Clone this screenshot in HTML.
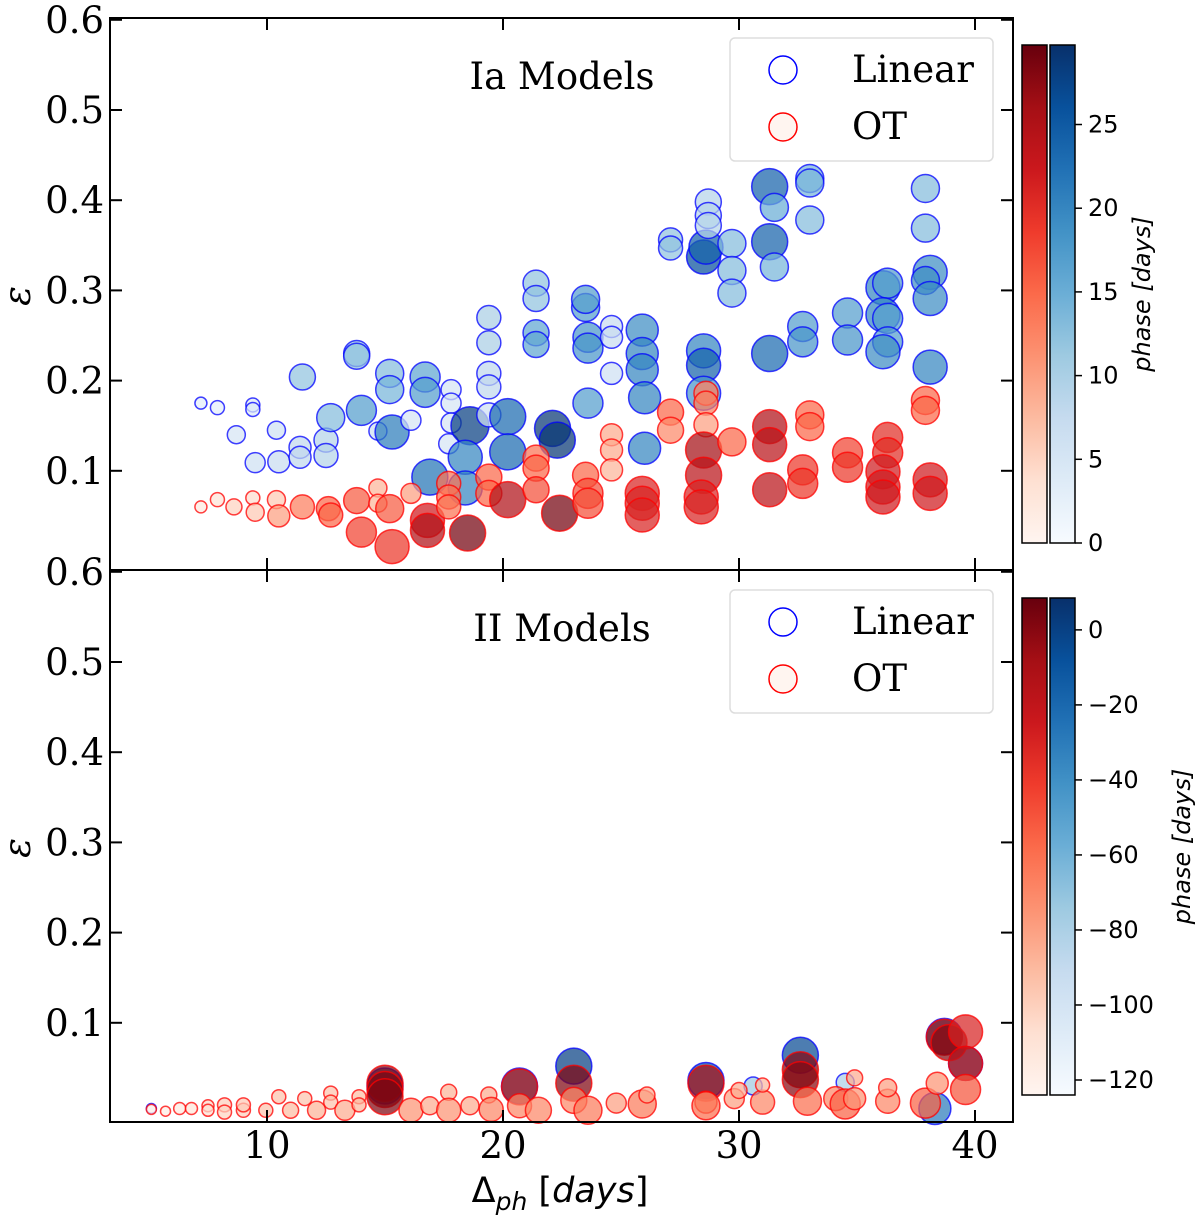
<!DOCTYPE html>
<html><head><meta charset="utf-8"><style>
body{margin:0;background:#fff}
svg{display:block}
.tk{font-family:"DejaVu Serif","Liberation Serif",serif;font-size:37px}
.cb{font-family:"DejaVu Sans","Liberation Sans",sans-serif;font-size:24px}
</style></head><body>
<svg id="chart" width="1200" height="1221" viewBox="0 0 1200 1221" xmlns="http://www.w3.org/2000/svg">
<defs>
<linearGradient id="gR" x1="0" y1="1" x2="0" y2="0"><stop offset="0" stop-color="#fff5f0"/><stop offset=".125" stop-color="#fee0d2"/><stop offset=".25" stop-color="#fcbba1"/><stop offset=".375" stop-color="#fc9272"/><stop offset=".5" stop-color="#fb6a4a"/><stop offset=".625" stop-color="#ef3b2c"/><stop offset=".75" stop-color="#cb181d"/><stop offset=".875" stop-color="#a50f15"/><stop offset="1" stop-color="#67000d"/></linearGradient>
<linearGradient id="gB" x1="0" y1="1" x2="0" y2="0"><stop offset="0" stop-color="#f7fbff"/><stop offset=".125" stop-color="#deebf7"/><stop offset=".25" stop-color="#c6dbef"/><stop offset=".375" stop-color="#9ecae1"/><stop offset=".5" stop-color="#6baed6"/><stop offset=".625" stop-color="#4292c6"/><stop offset=".75" stop-color="#2171b5"/><stop offset=".875" stop-color="#08519c"/><stop offset="1" stop-color="#08306b"/></linearGradient>
</defs>
<g id="marks"></g>
<g id="axes"></g>
</svg>
<script>
// Data: [delta_ph (days), epsilon, phase (days), marker radius]
const topLinear=[[7.2,.175,3,6],[7.9,.17,3,7],[9.4,.173,4,7],[9.4,.168,4,7],[8.7,.14,5,9],[10.4,.145,6,9],[9.5,.109,6,10],[10.5,.11,7,11],[11.4,.126,8,11],[11.4,.115,8,11],[11.5,.204,12,13],[12.5,.134,9,12],[12.5,.117,9,12],[12.7,.159,13,14],[13.8,.23,12,13],[13.8,.227,12,13],[14,.167,17,15],[14.7,.144,6,9],[15.3,.143,21,17],[15.2,.208,13,14],[15.2,.19,14,14],[16.1,.156,5,10],[16.7,.204,16,15],[16.7,.187,17,15],[16.9,.093,22,18],[17.8,.19,5,10],[17.8,.175,5,10],[17.8,.153,5,10],[17.7,.13,5,10],[18.6,.15,28,19],[18.4,.115,20,17],[18.4,.081,20,17],[19.4,.27,10,12],[19.4,.242,10,12],[19.4,.208,8,12],[19.4,.193,8,12],[19.4,.162,6,12],[20.2,.16,23,18],[20.2,.121,23,18],[21.4,.308,12,13],[21.4,.291,12,13],[21.4,.253,16,13],[21.4,.24,16,13],[22.1,.147,29,18],[22.3,.134,29,18],[23.5,.281,17,14],[23.5,.29,17,14],[23.6,.248,18,15],[23.6,.236,18,15],[23.6,.175,17,15],[24.6,.26,7,11],[24.6,.248,7,11],[24.6,.208,6,11],[25.9,.256,19,16],[25.9,.23,20,16],[25.9,.212,20,16],[26,.181,20,16],[26,.125,20,16],[27.1,.356,12,12],[27.1,.347,12,12],[28.5,.233,20,17],[28.5,.217,24,17],[28.5,.337,26,17],[28.6,.348,24,17],[28.5,.186,18,17],[28.7,.398,9,13],[28.7,.383,9,13],[28.7,.372,9,13],[29.7,.352,13,14],[29.7,.322,13,14],[29.7,.297,13,14],[31.3,.415,24,18],[31.5,.392,15,14],[31.3,.354,24,18],[31.5,.326,14,14],[31.3,.23,23,18],[33,.424,14,14],[33,.419,14,14],[33,.378,13,14],[32.7,.26,17,15],[32.7,.243,18,15],[34.6,.275,17,15],[34.6,.245,18,15],[36.1,.303,20,17],[36.3,.308,17,15],[36.1,.273,20,17],[36.3,.269,17,15],[36.3,.243,17,15],[36.1,.232,19,17],[37.9,.413,13,14],[37.9,.369,13,14],[38.1,.32,19,17],[37.9,.311,19,14],[38.1,.291,19,17],[38.1,.215,20,17]];
const topOT=[[7.2,.06,2,6],[7.9,.068,3,7],[8.6,.06,5,8],[9.4,.07,4,7],[9.5,.054,6,9],[10.4,.068,6,9],[10.5,.05,10,11],[11.5,.06,13,12],[12.6,.058,15,12],[12.7,.051,15,12],[13.8,.067,16,13],[14,.032,18,15],[14.7,.081,8,9],[14.7,.064,8,9],[15.2,.058,16,14],[15.3,.016,19,17],[16.1,.075,10,10],[16.8,.045,22,17],[16.8,.034,25,17],[17.7,.086,14,12],[17.7,.071,14,12],[17.7,.06,14,12],[18.5,.031,29,18],[19.4,.093,15,13],[19.4,.075,15,13],[20.2,.068,25,18],[21.4,.114,14,13],[21.4,.103,15,13],[21.4,.079,17,13],[22.4,.053,29,18],[23.5,.095,15,13],[23.6,.075,17,15],[23.6,.064,17,15],[24.6,.14,9,11],[24.6,.123,9,11],[24.6,.101,8,11],[25.9,.075,21,17],[25.9,.064,21,17],[25.9,.051,21,17],[27.1,.165,15,13],[27.1,.145,12,13],[28.6,.186,13,12],[28.6,.175,13,12],[28.6,.151,10,12],[28.5,.123,26,18],[28.5,.095,24,18],[28.4,.071,21,17],[28.4,.06,21,17],[29.7,.132,15,14],[31.3,.149,25,17],[31.3,.129,24,17],[31.3,.079,24,17],[33,.162,15,14],[33,.149,15,14],[32.7,.101,19,15],[32.7,.086,19,15],[34.6,.12,18,15],[34.6,.104,19,15],[36.3,.137,20,15],[36.3,.12,20,15],[36.1,.099,22,17],[36.1,.082,22,17],[36.1,.071,22,17],[37.9,.178,15,14],[37.9,.167,15,14],[38.1,.09,22,17],[38.1,.075,22,17]];
const botLinear=[[5.1,.005,-115,5],[15,.03,-5,18],[20.7,.03,-20,18],[23,.052,0,18],[28.6,.036,-10,18],[30.6,.03,-75,9],[32.6,.064,-5,18],[34.5,.034,-80,9],[38.3,.005,-30,16],[38.7,.085,-15,18],[39.6,.055,-10,17]];
const botOT=[[5.1,.004,-120,5],[5.7,.002,-118,5],[6.3,.005,-115,6],[6.8,.005,-112,6],[7.5,.008,-105,6],[7.5,.003,-108,6],[8.2,.009,-100,7],[8.2,.001,-102,7],[9,.003,-100,7],[9,.009,-98,7],[9.95,.003,-95,7],[10.5,.018,-95,7],[11,.003,-92,8],[11.6,.016,-95,7],[12.1,.003,-88,9],[12.7,.022,-95,7],[12.7,.012,-95,7],[13.3,.003,-85,10],[13.9,.018,-92,7],[13.9,.009,-90,7],[15,.033,0,18],[15,.026,3,18],[15,.018,2,18],[16.1,.003,-75,12],[16.9,.008,-85,9],[17.7,.023,-88,8],[17.7,.003,-75,12],[18.6,.008,-85,9],[19.4,.02,-85,8],[19.5,.004,-70,12],[20.7,.029,-15,18],[20.7,.008,-70,12],[21.5,.003,-70,13],[23,.033,2,18],[23,.014,-70,13],[23.6,.003,-65,14],[24.8,.011,-80,10],[25.9,.01,-65,14],[26.1,.02,-85,8],[28.6,.033,-10,18],[28.6,.012,-75,11],[28.6,.008,-60,14],[29.8,.016,-80,10],[30,.025,-85,8],[31,.012,-70,12],[31,.031,-90,7],[32.6,.048,2,18],[32.6,.037,0,18],[32.9,.013,-60,14],[34.1,.016,-70,12],[34.5,.01,-55,15],[34.9,.016,-75,11],[34.9,.039,-85,8],[36.3,.013,-70,12],[36.3,.028,-80,9],[37.9,.011,-55,15],[38.4,.033,-75,11],[38.7,.084,-5,18],[38.9,.078,0,18],[39.6,.09,-30,17],[39.6,.055,-20,17],[39.6,.026,-50,15]];
const xTicks=[10,20,30,40];
const yTicks=[0.1,0.2,0.3,0.4,0.5,0.6];
const cbTopTicks=[0,5,10,15,20,25];
const cbBotTicks=[0,-20,-40,-60,-80,-100,-120];

const NS='http://www.w3.org/2000/svg';
const X=d=>267+(d-10)*23.6;
const YT=v=>561-v*902, YB=v=>1113-v*902;
const R=['#fff5f0','#fee0d2','#fcbba1','#fc9272','#fb6a4a','#ef3b2c','#cb181d','#a50f15','#67000d'];
const B=['#f7fbff','#deebf7','#c6dbef','#9ecae1','#6baed6','#4292c6','#2171b5','#08519c','#08306b'];
function cmap(pal,t){t=Math.max(0,Math.min(1,t));const s=t*8,i=Math.min(7,Math.floor(s)),f=s-i;
const a=pal[i],b=pal[i+1];const h=(c,k)=>parseInt(c.substr(1+2*k,2),16);
return 'rgb('+[0,1,2].map(k=>Math.round(h(a,k)+(h(b,k)-h(a,k))*f)).join(',')+')';}
function el(tag,attrs,parent){const e=document.createElementNS(NS,tag);for(const k in attrs)e.setAttribute(k,attrs[k]);parent.appendChild(e);return e;}
const marks=document.getElementById('marks'),axes=document.getElementById('axes');
function plot(data,Y,pal,edge,vmin,vmax,name){
 data.forEach(p=>{const c=el('circle',{cx:X(p[0]),cy:Y(p[1]),r:p[3],fill:cmap(pal,(p[2]-vmin)/(vmax-vmin)),'fill-opacity':.72,stroke:edge,'stroke-opacity':.75,'stroke-width':1.5},marks);
 
 });
}
plot(topLinear,YT,B,'#0000ff',0,29.75,'ia-linear-point');
plot(topOT,YT,R,'#ff0000',0,29.75,'ia-ot-point');
plot(botLinear,YB,B,'#0000ff',-124,8.5,'ii-linear-point');
plot(botOT,YB,R,'#ff0000',-124,8.5,'ii-ot-point');

function panel(y0,y1,Y,title,nm){
 const g=el('g',{},axes);
 
 
 el('rect',{x:110,y:y0,width:903,height:y1-y0,fill:'none',stroke:'#000','stroke-width':2},g);
 xTicks.forEach(t=>{el('line',{x1:X(t),x2:X(t),y1:y1,y2:y1-12,stroke:'#000','stroke-width':2},g);el('line',{x1:X(t),x2:X(t),y1:y0,y2:y0+12,stroke:'#000','stroke-width':2},g);});
 yTicks.forEach(t=>{const y=Y(t);el('line',{x1:110,x2:122,y1:y,y2:y,stroke:'#000','stroke-width':2},g);el('line',{x1:1013,x2:1001,y1:y,y2:y,stroke:'#000','stroke-width':2},g);
  const tx=el('text',{x:104,y:y+13,'text-anchor':'end',class:'tk'},g);tx.textContent=t.toFixed(1);
  
  });
 const yl=el('text',{x:0,y:0,class:'tk',transform:'translate(30,'+((y0+y1)/2+2)+') rotate(-90)','text-anchor':'middle','font-style':'italic'},g);yl.textContent='ε';
 
 
 const tt=el('text',{x:562,y:y0+71,'text-anchor':'middle',class:'tk'},g);tt.textContent=title;
 
 
 const lg=el('g',{},g);
 
 
 el('rect',{x:730,y:y0+20,width:263,height:123,rx:5,fill:'#fff','fill-opacity':.85,stroke:'#ddd','stroke-width':1.5},lg);
 el('circle',{cx:783,cy:y0+52,r:14,fill:'none',stroke:'#0000ff','stroke-width':1.5},lg);
 el('circle',{cx:783,cy:y0+109,r:14,fill:'#fff5f0',stroke:'#ff0000','stroke-width':1.5},lg);
 const a=el('text',{x:852,y:y0+64,class:'tk'},lg);a.textContent='Linear';
 
 
 const b=el('text',{x:852,y:y0+121,class:'tk'},lg);b.textContent='OT';
 
 
}
panel(18,570,YT,'Ia Models','ia');
panel(570,1122,YB,'II Models','ii');
xTicks.forEach(t=>{const tx=el('text',{x:X(t),y:1158,'text-anchor':'middle',class:'tk'},axes);tx.textContent=t;
 
 });
const xl=el('text',{x:560,y:1202,'text-anchor':'middle',class:'cb',style:'font-size:35px'},axes);
xl.innerHTML='Δ<tspan style="font-size:25px;font-style:italic" dy="8">ph</tspan><tspan dy="-8"> [</tspan><tspan style="font-style:italic">days</tspan>]';



function cbar(y0,y1,vmin,vmax,ticks,nm,lx){
 const g=el('g',{},axes);
 
 
 el('rect',{x:1022,y:y0,width:25,height:y1-y0,fill:'url(#gR)',stroke:'#000','stroke-width':1.5},g);
 el('rect',{x:1050,y:y0,width:25,height:y1-y0,fill:'url(#gB)',stroke:'#000','stroke-width':1.5},g);
 const S=v=>y1-(v-vmin)/(vmax-vmin)*(y1-y0);
 ticks.forEach(t=>{const y=S(t);el('line',{x1:1075,x2:1082,y1:y,y2:y,stroke:'#000','stroke-width':1.5},g);
  const tx=el('text',{x:1088,y:y+8,class:'cb'},g);tx.textContent=String(t).replace('-','−');
  
  });
 const lab=el('text',{x:0,y:0,class:'cb','font-style':'italic','text-anchor':'middle',transform:'translate('+lx+','+((y0+y1)/2)+') rotate(-90)'},g);
 lab.textContent='phase [days]';
 
 
}
cbar(45,543,0,29.75,cbTopTicks,'ia-colorbar',1150);
cbar(598,1095,-124,8.5,cbBotTicks,'ii-colorbar',1190);
</script>
</body></html>
